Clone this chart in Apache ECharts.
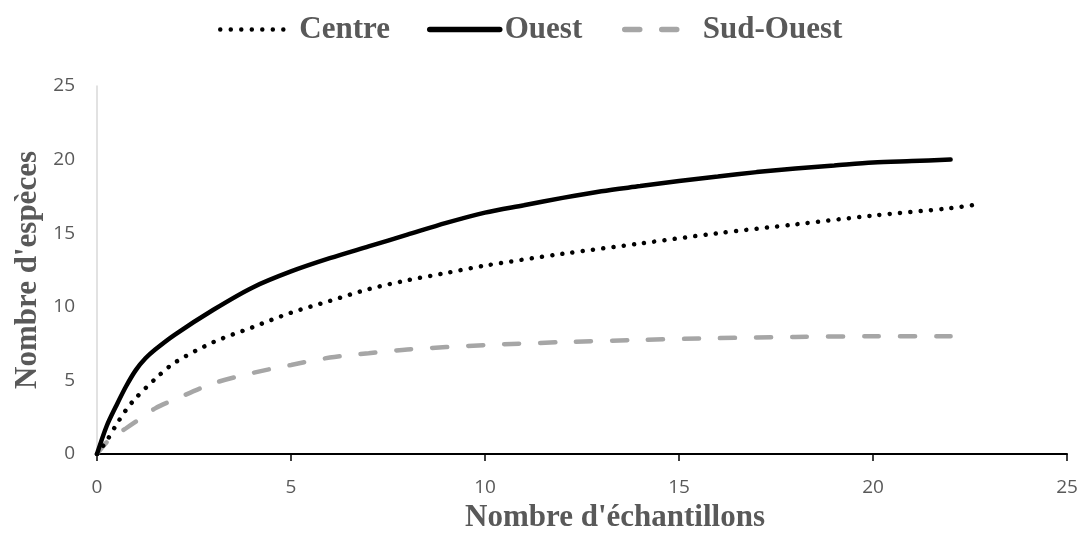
<!DOCTYPE html>
<html>
<head>
<meta charset="utf-8">
<script src="https://cdn.jsdelivr.net/npm/echarts@6/dist/echarts.min.js"></script>
<style>
html,body{margin:0;padding:0;background:#fff;}
#chart{width:1077px;height:543px;}
</style>
</head>
<body>
<div id="chart"></div>
<script>
// Data
const seriesNames = ['Centre', 'Ouest', 'Sud-Ouest'];
const xTicks = [0, 5, 10, 15, 20, 25];
const yTicks = [0, 5, 10, 15, 20, 25];

const centreX = [0, 0.25, 0.5, 0.75, 1, 1.5, 2, 3, 4, 5, 6, 7, 8, 9, 10, 12, 14, 16, 18, 20, 22, 22.8];
const centreY = [0, 0.9, 2.0, 3.0, 3.8, 5.1, 6.2, 7.6, 8.6, 9.6, 10.4, 11.2, 11.8, 12.3, 12.8, 13.6, 14.3, 15.0, 15.6, 16.2, 16.7, 17.0];

const ouestX = [0, 0.25, 0.5, 0.75, 1, 1.25, 1.5, 2, 3, 4, 5, 6, 7, 8, 9, 10, 11, 12, 13, 14, 15, 16, 17, 18, 19, 20, 21, 22];
const ouestY = [0, 1.9, 3.3, 4.6, 5.7, 6.5, 7.1, 8.1, 9.8, 11.3, 12.4, 13.3, 14.1, 14.9, 15.7, 16.4, 16.9, 17.4, 17.85, 18.2, 18.55, 18.85, 19.15, 19.4, 19.6, 19.8, 19.9, 20.0];

const sudOuestX = [0, 0.25, 0.5, 0.75, 1, 1.5, 2, 3, 4, 5, 6, 7, 8, 10, 12, 14, 16, 18, 20, 22];
const sudOuestY = [0, 0.8, 1.3, 1.75, 2.2, 3.1, 3.7, 4.8, 5.5, 6.05, 6.55, 6.85, 7.1, 7.4, 7.6, 7.75, 7.87, 7.95, 8.0, 8.0];

const pairs = (xs, ys) => xs.map((x, i) => [x, ys[i]]);

const serifBold = {fontFamily: 'Liberation Serif', fontWeight: 'bold', fontSize: 31, color: '#595959'};
const noSymbol = {color: 'rgba(0,0,0,0)', borderColor: 'rgba(0,0,0,0)', borderWidth: 0};

const chart = echarts.init(document.getElementById('chart'), null, {renderer: 'canvas'});
chart.setOption({
  backgroundColor: '#ffffff',
  animation: false,
  legend: [
    {data: [seriesNames[0]], left: 213, top: 9, itemWidth: 65, itemHeight: 14,
     itemStyle: noSymbol,
     lineStyle: {color: '#000000', width: 4.5, type: [0.01, 10.5], cap: 'round'},
     textStyle: Object.assign({}, serifBold, {padding: [0, 0, 0, 9]})},
    {data: [seriesNames[1]], left: 422, top: 9, itemWidth: 70, itemHeight: 14,
     itemStyle: noSymbol,
     lineStyle: {color: '#000000', width: 5.5, type: 'solid', cap: 'round'},
     textStyle: Object.assign({}, serifBold, {padding: [0, 0, 0, 0]})},
    {data: [seriesNames[2]], left: 617, top: 9, itemWidth: 55, itemHeight: 14,
     itemStyle: noSymbol,
     lineStyle: {color: '#A6A6A6', width: 5.5, type: [15, 22], cap: 'round'},
     textStyle: Object.assign({}, serifBold, {padding: [0, 0, 0, 18]})}
  ],
  grid: {left: 97, right: 10, top: 86, bottom: 89, containLabel: false, outerBoundsMode: 'none'},
  xAxis: {
    type: 'value', min: xTicks[0], max: xTicks[xTicks.length - 1], interval: 5,
    name: "Nombre d'échantillons", nameLocation: 'middle', nameGap: 48, nameMoveOverlap: false,
    nameTextStyle: Object.assign({}, serifBold, {padding: [0, 0, 0, 66]}),
    axisLine: {show: true, lineStyle: {color: '#000000', width: 2}},
    axisTick: {show: true, length: 7, lineStyle: {color: '#000000', width: 1.5}},
    axisLabel: {color: '#595959', fontFamily: 'Open Sans', fontSize: 19, margin: 24},
    splitLine: {show: false}
  },
  yAxis: {
    type: 'value', min: yTicks[0], max: yTicks[yTicks.length - 1], interval: 5,
    name: "Nombre d'espèces", nameLocation: 'middle', nameGap: 54, nameRotate: 90, nameMoveOverlap: false,
    nameTextStyle: serifBold,
    axisLine: {show: true, lineStyle: {color: '#D9D9D9', width: 1.5}},
    axisTick: {show: false},
    axisLabel: {color: '#595959', fontFamily: 'Open Sans', fontSize: 19, margin: 22},
    splitLine: {show: false}
  },
  series: [
    {
      name: seriesNames[0], type: 'line', smooth: 0.3, symbol: 'none',
      data: pairs(centreX, centreY), z: 3,
      lineStyle: {color: '#000000', width: 4.5, type: [0.01, 10.3], cap: 'round'},
      itemStyle: {color: '#000000'}
    },
    {
      name: seriesNames[1], type: 'line', smooth: 0.3, symbol: 'none',
      data: pairs(ouestX, ouestY), z: 4,
      lineStyle: {color: '#000000', width: 4.5, cap: 'round'},
      itemStyle: {color: '#000000'}
    },
    {
      name: seriesNames[2], type: 'line', smooth: 0.3, symbol: 'none',
      data: pairs(sudOuestX, sudOuestY), z: 2,
      lineStyle: {color: '#A6A6A6', width: 4.5, type: [15, 21], cap: 'round'},
      itemStyle: {color: '#A6A6A6'}
    }
  ]
});
</script>
</body>
</html>
